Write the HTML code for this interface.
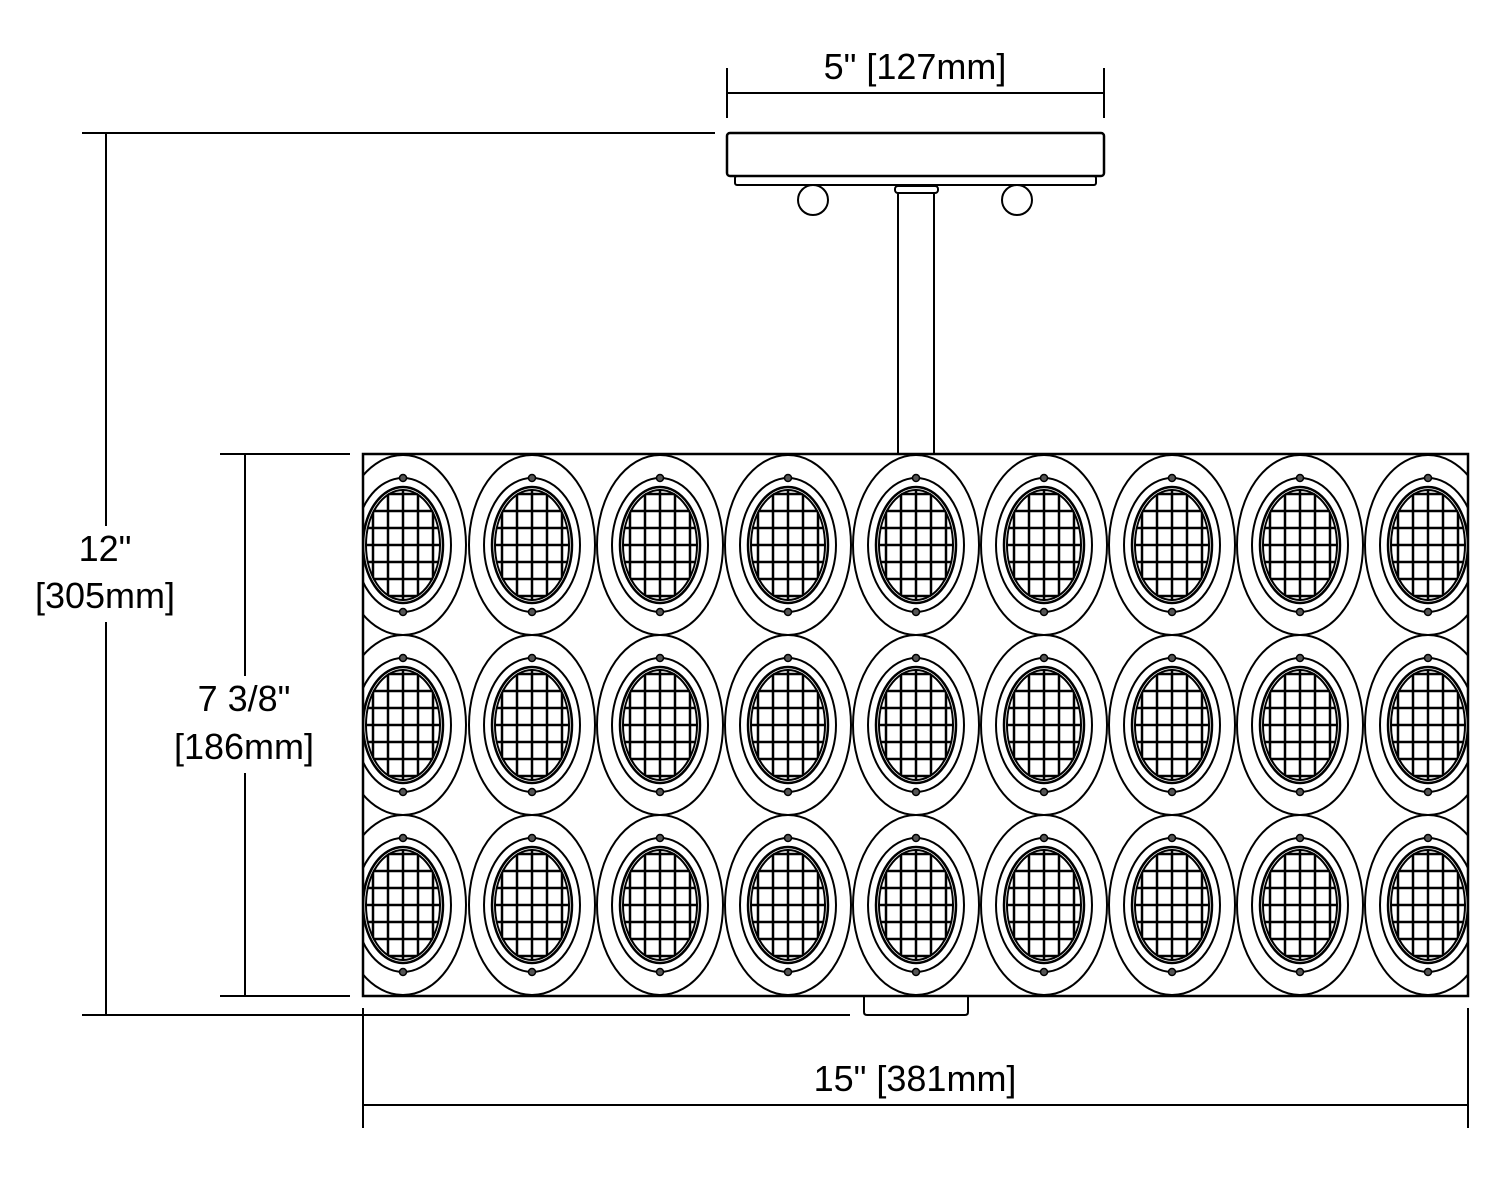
<!DOCTYPE html>
<html><head><style>
html,body{margin:0;padding:0;background:#fff;}
svg{display:block;}
text{font-family:"Liberation Sans",sans-serif;font-size:36px;fill:#000;text-anchor:middle;}
</style></head><body>
<svg width="1500" height="1180" viewBox="0 0 1500 1180" xmlns="http://www.w3.org/2000/svg">
<defs>
<clipPath id="box"><rect x="363" y="454" width="1105" height="542"/></clipPath>
<clipPath id="inner"><ellipse cx="0" cy="0" rx="38" ry="56"/></clipPath>
<g id="cell" fill="none" stroke="#000">
<ellipse cx="0" cy="0" rx="63" ry="90" stroke-width="2"/>
<ellipse cx="0" cy="0" rx="48" ry="67" stroke-width="2"/>
<g clip-path="url(#inner)" stroke-width="2.5">
<line x1="-30" y1="-70" x2="-30" y2="70"/><line x1="-15" y1="-70" x2="-15" y2="70"/><line x1="0" y1="-70" x2="0" y2="70"/><line x1="15" y1="-70" x2="15" y2="70"/><line x1="30" y1="-70" x2="30" y2="70"/>
<line x1="-50" y1="-51" x2="50" y2="-51"/><line x1="-50" y1="-34" x2="50" y2="-34"/><line x1="-50" y1="-17" x2="50" y2="-17"/><line x1="-50" y1="0" x2="50" y2="0"/><line x1="-50" y1="17" x2="50" y2="17"/><line x1="-50" y1="34" x2="50" y2="34"/><line x1="-50" y1="51" x2="50" y2="51"/>
</g>
<ellipse cx="0" cy="0" rx="40" ry="58" stroke-width="2.5"/>
<ellipse cx="0" cy="0" rx="37" ry="55" stroke-width="2"/>
<circle cx="0" cy="-67" r="3.5" fill="#555" stroke-width="1.5"/>
<circle cx="0" cy="67" r="3.5" fill="#555" stroke-width="1.5"/>
</g>
<g id="row">
<use href="#cell" x="403"/><use href="#cell" x="532"/><use href="#cell" x="660"/><use href="#cell" x="788"/><use href="#cell" x="916"/><use href="#cell" x="1044"/><use href="#cell" x="1172"/><use href="#cell" x="1300"/><use href="#cell" x="1428"/>
</g>
</defs>

<g stroke="#000" fill="none" stroke-width="2">
<line x1="727" y1="93" x2="1104" y2="93"/>
<line x1="727" y1="68" x2="727" y2="118"/>
<line x1="1104" y1="68" x2="1104" y2="118"/>
<rect x="727" y="133" width="377" height="43" rx="3" stroke-width="2.5"/>
<rect x="735" y="176" width="361" height="9" rx="2"/>
<circle cx="813" cy="200" r="15"/>
<circle cx="1017" cy="200" r="15"/>
<rect x="895" y="186" width="43" height="7" rx="3"/>
<line x1="898" y1="193" x2="898" y2="454"/>
<line x1="934" y1="193" x2="934" y2="454"/>
<line x1="82" y1="133" x2="715" y2="133"/>
<line x1="82" y1="1015" x2="850" y2="1015"/>
<line x1="106" y1="133" x2="106" y2="526"/>
<line x1="106" y1="622" x2="106" y2="1015"/>
<line x1="220" y1="454" x2="350" y2="454"/>
<line x1="220" y1="996" x2="350" y2="996"/>
<line x1="245" y1="454" x2="245" y2="676"/>
<line x1="245" y1="773" x2="245" y2="996"/>
<line x1="363" y1="1008" x2="363" y2="1128"/>
<line x1="1468" y1="1008" x2="1468" y2="1128"/>
<line x1="363" y1="1105" x2="1468" y2="1105"/>
<path d="M864 996 V1012 Q864 1015 867 1015 H965 Q968 1015 968 1012 V996"/>
</g>

<g clip-path="url(#box)">
<use href="#row" y="545"/>
<use href="#row" y="725"/>
<use href="#row" y="905"/>
</g>
<rect x="363" y="454" width="1105" height="542" fill="none" stroke="#000" stroke-width="2.5"/>

<text x="915" y="79">5" [127mm]</text>
<text x="105" y="561">12"</text>
<text x="105" y="608">[305mm]</text>
<text x="244" y="711">7 3/8"</text>
<text x="244" y="759">[186mm]</text>
<text x="915" y="1091">15" [381mm]</text>
</svg>
</body></html>
